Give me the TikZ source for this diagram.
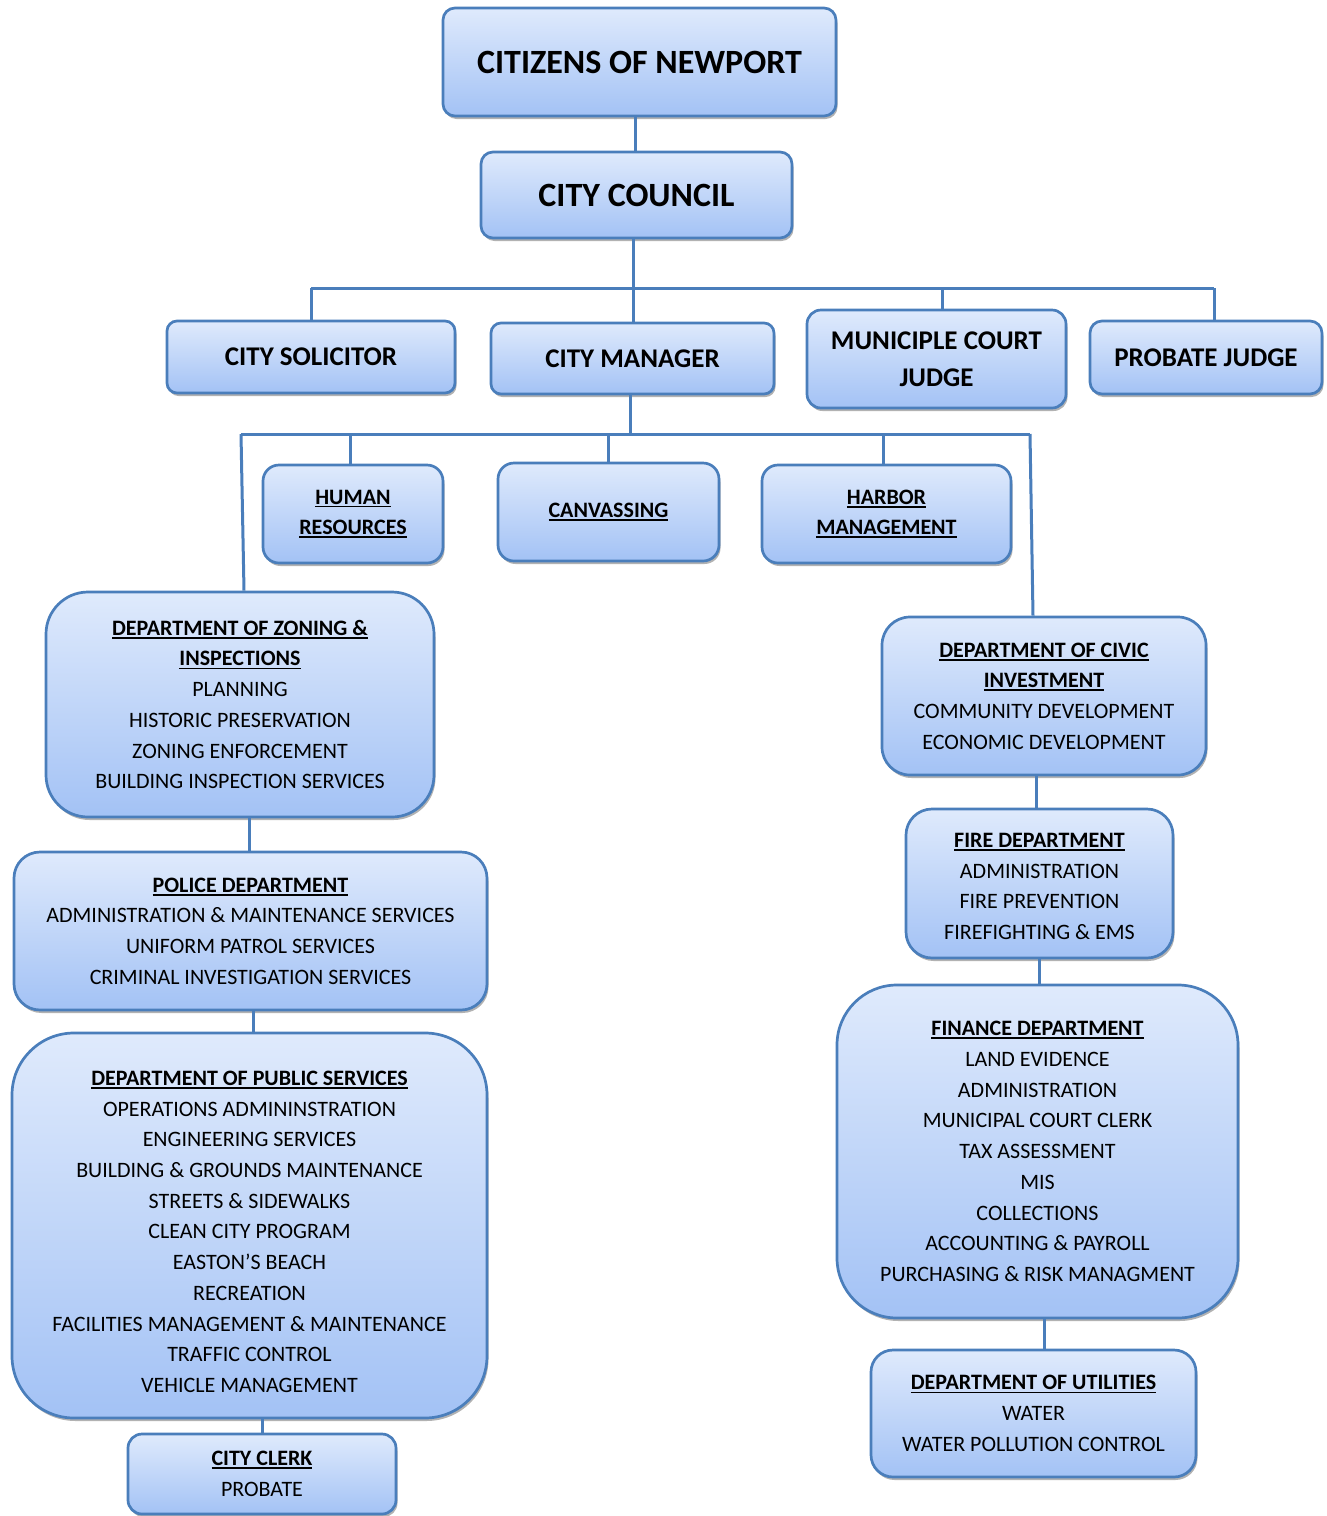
\documentclass[tikz,border=0pt]{standalone}
\usepackage{fontspec}
\setmainfont{Carlito}
\usetikzlibrary{shadows}
\definecolor{bord}{RGB}{74,126,187}
\definecolor{topc}{RGB}{223,234,252}
\definecolor{botc}{RGB}{163,194,245}
\newcommand\hd[1]{\setbox0\hbox{\bfseries #1}\rlap{\rule[-3.4pt]{\wd0}{1.8pt}}\box0}
\tikzset{
  orgbox/.style={draw=bord, line width=2.7pt, rounded corners=#1,
    top color=topc, bottom color=botc,
    drop shadow={shadow xshift=1.5pt, shadow yshift=-3pt, fill=black, opacity=0.3},
    align=center, inner sep=0pt, text=black},
  orgbox/.default=12pt,
  bigf/.style={font=\fontsize{34}{40}\selectfont\bfseries},
  midf/.style={font=\fontsize{27}{37}\selectfont\bfseries},
  bodyf/.style={font=\fontsize{22}{30.7}\selectfont},
  conn/.style={draw=bord, line width=3pt}
}
\begin{document}
\begin{tikzpicture}[x=1pt,y=-1pt]
\useasboundingbox (0,0) rectangle (1327,1516);

% top
\node[orgbox, bigf, minimum width=393pt, minimum height=108pt] (cit) at (639.5,62) {CITIZENS OF NEWPORT};
\node[orgbox, bigf, minimum width=311pt, minimum height=86pt] (council) at (636.5,195) {CITY COUNCIL};

% second row
\node[orgbox=10pt, midf, minimum width=288pt, minimum height=72pt] (sol) at (311,357) {CITY SOLICITOR};
\node[orgbox=10pt, midf, minimum width=283pt, minimum height=71pt] (mgr) at (632.5,358.5) {CITY MANAGER};
\node[orgbox=14pt, midf, minimum width=259pt, minimum height=98pt] (mun) at (936.5,359) {MUNICIPLE COURT\\JUDGE};
\node[orgbox=12pt, midf, minimum width=232pt, minimum height=73pt] (prob) at (1206,357.5) {PROBATE JUDGE};

% third row
\node[orgbox=16pt, bodyf, minimum width=180pt, minimum height=98pt] (hr) at (353,514) {\hd{HUMAN}\\\hd{RESOURCES}};
\node[orgbox=16pt, bodyf, minimum width=221pt, minimum height=98pt] (canv) at (608.5,512) {\hd{CANVASSING}};
\node[orgbox=16pt, bodyf, minimum width=249pt, minimum height=98pt] (harb) at (886.5,514) {\hd{HARBOR}\\\hd{MANAGEMENT}};

% left column
\node[orgbox=42pt, bodyf, minimum width=388pt, minimum height=225pt] (zon) at (240,704.5)
 {\hd{DEPARTMENT OF ZONING \&}\\\hd{INSPECTIONS}\\PLANNING\\HISTORIC PRESERVATION\\ZONING ENFORCEMENT\\BUILDING INSPECTION SERVICES};
\node[orgbox=26pt, bodyf, minimum width=473pt, minimum height=158pt] (pol) at (250.5,931)
 {\hd{POLICE DEPARTMENT}\\ADMINISTRATION \& MAINTENANCE SERVICES\\UNIFORM PATROL SERVICES\\CRIMINAL INVESTIGATION SERVICES};
\node[orgbox=62pt, bodyf, minimum width=475pt, minimum height=385pt] (pub) at (249.5,1225.5)
 {\rule{0pt}{27pt}\hd{DEPARTMENT OF PUBLIC SERVICES}\\OPERATIONS ADMININSTRATION\\ENGINEERING SERVICES\\BUILDING \& GROUNDS MAINTENANCE\\STREETS \& SIDEWALKS\\CLEAN CITY PROGRAM\\EASTON’S BEACH\\RECREATION\\FACILITIES MANAGEMENT \& MAINTENANCE\\TRAFFIC CONTROL\\VEHICLE MANAGEMENT};
\node[orgbox=14pt, bodyf, minimum width=268pt, minimum height=80pt] (clerk) at (262,1474)
 {\hd{CITY CLERK}\\PROBATE};

% right column
\node[orgbox=28pt, bodyf, minimum width=324pt, minimum height=158pt] (civ) at (1044,696)
 {\hd{DEPARTMENT OF CIVIC}\\\hd{INVESTMENT}\\COMMUNITY DEVELOPMENT\\ECONOMIC DEVELOPMENT};
\node[orgbox=26pt, bodyf, minimum width=267pt, minimum height=149pt] (fire) at (1039.5,883.5)
 {\rule{0pt}{20pt}\hd{FIRE DEPARTMENT}\\ADMINISTRATION\\FIRE PREVENTION\\FIREFIGHTING \& EMS};
\node[orgbox=60pt, bodyf, minimum width=401pt, minimum height=333pt] (fin) at (1037.5,1151.5)
 {\hd{FINANCE DEPARTMENT}\\LAND EVIDENCE\\ADMINISTRATION\\MUNICIPAL COURT CLERK\\TAX ASSESSMENT\\MIS\\COLLECTIONS\\ACCOUNTING \& PAYROLL\\PURCHASING \& RISK MANAGMENT};
\node[orgbox=22pt, bodyf, minimum width=325pt, minimum height=127pt] (util) at (1033.5,1413.5)
 {\hd{DEPARTMENT OF UTILITIES}\\WATER\\WATER POLLUTION CONTROL};

% bus junctions and column positions
\coordinate (ja) at (311,288);
\coordinate (jb) at (633,288);
\coordinate (jc) at (942,288);
\coordinate (jd) at (1214,288);
\coordinate (ka) at (241,434);
\coordinate (kb) at (350,434);
\coordinate (kc) at (608,434);
\coordinate (kd) at (630,434);
\coordinate (ke) at (883,434);
\coordinate (kf) at (1030,434);
\coordinate (c635) at (635,0);
\coordinate (c244) at (244,0);
\coordinate (c1033) at (1033,0);
\coordinate (c249) at (249,0);
\coordinate (c253) at (253,0);
\coordinate (c262) at (262,0);
\coordinate (c1036) at (1036,0);
\coordinate (c1039) at (1039,0);
\coordinate (c1044) at (1044,0);

% connectors
\draw[conn] (cit.south -| c635) -- (council.north -| c635);
\draw[conn] (council.south -| jb) -- (jb);
\draw[conn] (ja) -- (jd);
\draw[conn] (ja) -- (ja |- sol.north);
\draw[conn] (jb) -- (jb |- mgr.north);
\draw[conn] (jc) -- (jc |- mun.north);
\draw[conn] (jd) -- (jd |- prob.north);

\draw[conn] (mgr.south -| kd) -- (kd);
\draw[conn] (ka) -- (kf);
\draw[conn] (kb) -- (kb |- hr.north);
\draw[conn] (kc) -- (kc |- canv.north);
\draw[conn] (ke) -- (ke |- harb.north);
\draw[conn] (ka) -- (zon.north -| c244);
\draw[conn] (kf) -- (civ.north -| c1033);

\draw[conn] (zon.south -| c249) -- (pol.north -| c249);
\draw[conn] (pol.south -| c253) -- (pub.north -| c253);
\draw[conn] (pub.south -| c262) -- (clerk.north -| c262);
\draw[conn] (civ.south -| c1036) -- (fire.north -| c1036);
\draw[conn] (fire.south -| c1039) -- (fin.north -| c1039);
\draw[conn] (fin.south -| c1044) -- (util.north -| c1044);
\end{tikzpicture}
\end{document}
